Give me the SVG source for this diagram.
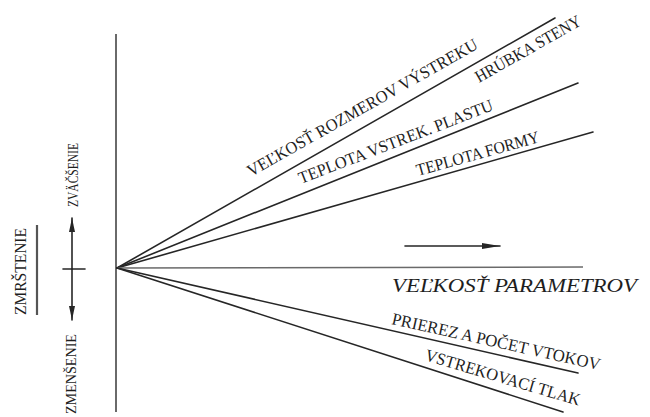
<svg xmlns="http://www.w3.org/2000/svg" width="650" height="417" viewBox="0 0 650 417">
<style>
  .ln { stroke:#262626; stroke-width:1.6; fill:none; stroke-linecap:round; }
  .ax { stroke:#6a6a6a; stroke-width:2; fill:none; }
  .lb { font-family:"Liberation Serif","Times New Roman",serif; font-size:17px; fill:#1e1e1e; }
  .sm { font-family:"Liberation Serif","Times New Roman",serif; font-size:14px; fill:#1e1e1e; }
  .it { font-family:"Liberation Serif","Times New Roman",serif; font-size:19px; font-style:italic; fill:#1e1e1e; }
</style>
<defs>
  <marker id="ah" viewBox="0 0 14 7" refX="14" refY="3.5" markerWidth="14" markerHeight="7" markerUnits="userSpaceOnUse" orient="auto">
    <path d="M0,0.5 L14,3.5 L0,6.5 Z" fill="#262626"/>
  </marker>
  <marker id="ah2" viewBox="0 0 18 8" refX="18" refY="4" markerWidth="18" markerHeight="8" markerUnits="userSpaceOnUse" orient="auto">
    <path d="M0,1 L18,4 L0,7 Z" fill="#262626"/>
  </marker>
</defs>
<rect width="650" height="417" fill="#ffffff"/>

<g id="connectors">
  <line id="axis" class="ax" x1="116" y1="34" x2="116" y2="412"/>
  <line class="ln" x1="117" y1="268" x2="555" y2="18"/>
  <line class="ln" x1="117" y1="268" x2="578" y2="83"/>
  <line class="ln" x1="117" y1="268" x2="593" y2="132"/>
  <line class="ax" style="stroke-width:1.5" x1="117" y1="268" x2="583" y2="267"/>
  <line class="ln" x1="117" y1="268" x2="578" y2="373"/>
  <line class="ln" x1="117" y1="268" x2="563" y2="412"/>
  <line class="ln" x1="405" y1="246" x2="500" y2="246" marker-end="url(#ah2)"/>
  <line class="ln" x1="72" y1="269" x2="72" y2="218" marker-end="url(#ah)"/>
  <line class="ln" x1="72" y1="269" x2="72" y2="320" marker-end="url(#ah)"/>
  <line class="ln" x1="63" y1="269" x2="85" y2="269"/>
  <line class="ax" style="stroke-width:2.2;stroke:#555" x1="37" y1="225" x2="37" y2="315"/>
</g>

<g id="label-velkost-rozmerov">
  <text class="lb" transform="translate(251,177) rotate(-29.5)" textLength="262" lengthAdjust="spacingAndGlyphs">VEĽKOSŤ ROZMEROV VÝSTREKU</text>
</g>
<g id="label-hrubka">
  <text class="lb" transform="translate(479,83) rotate(-29.5)" textLength="119" lengthAdjust="spacingAndGlyphs">HRÚBKA STENY</text>
</g>
<g id="label-teplota-plastu">
  <text class="lb" transform="translate(301,184) rotate(-21)" textLength="207" lengthAdjust="spacingAndGlyphs">TEPLOTA VSTREK. PLASTU</text>
</g>
<g id="label-teplota-formy">
  <text class="lb" transform="translate(418,176) rotate(-15.5)" textLength="127" lengthAdjust="spacingAndGlyphs">TEPLOTA FORMY</text>
</g>
<g id="label-parametrov">
  <text class="it" x="392" y="292" textLength="245" lengthAdjust="spacingAndGlyphs">VEĽKOSŤ PARAMETROV</text>
</g>
<g id="label-prierez">
  <text class="lb" transform="translate(391,324) rotate(12.5)" textLength="213" lengthAdjust="spacingAndGlyphs">PRIEREZ A POČET VTOKOV</text>
</g>
<g id="label-tlak">
  <text class="lb" transform="translate(424,360) rotate(16.5)" textLength="161" lengthAdjust="spacingAndGlyphs">VSTREKOVACÍ TLAK</text>
</g>
<g id="label-zvacsenie">
  <text class="sm" transform="translate(78,207) rotate(-90)" textLength="64" lengthAdjust="spacingAndGlyphs">ZVÄČŠENIE</text>
</g>
<g id="label-zmensenie">
  <text class="sm" transform="translate(76,414) rotate(-90)" textLength="80" lengthAdjust="spacingAndGlyphs">ZMENŠENIE</text>
</g>
<g id="label-zmrstenie">
  <text class="sm" style="font-size:16px" transform="translate(26,315) rotate(-90)" textLength="87" lengthAdjust="spacingAndGlyphs">ZMRŠTENIE</text>
</g>
</svg>
